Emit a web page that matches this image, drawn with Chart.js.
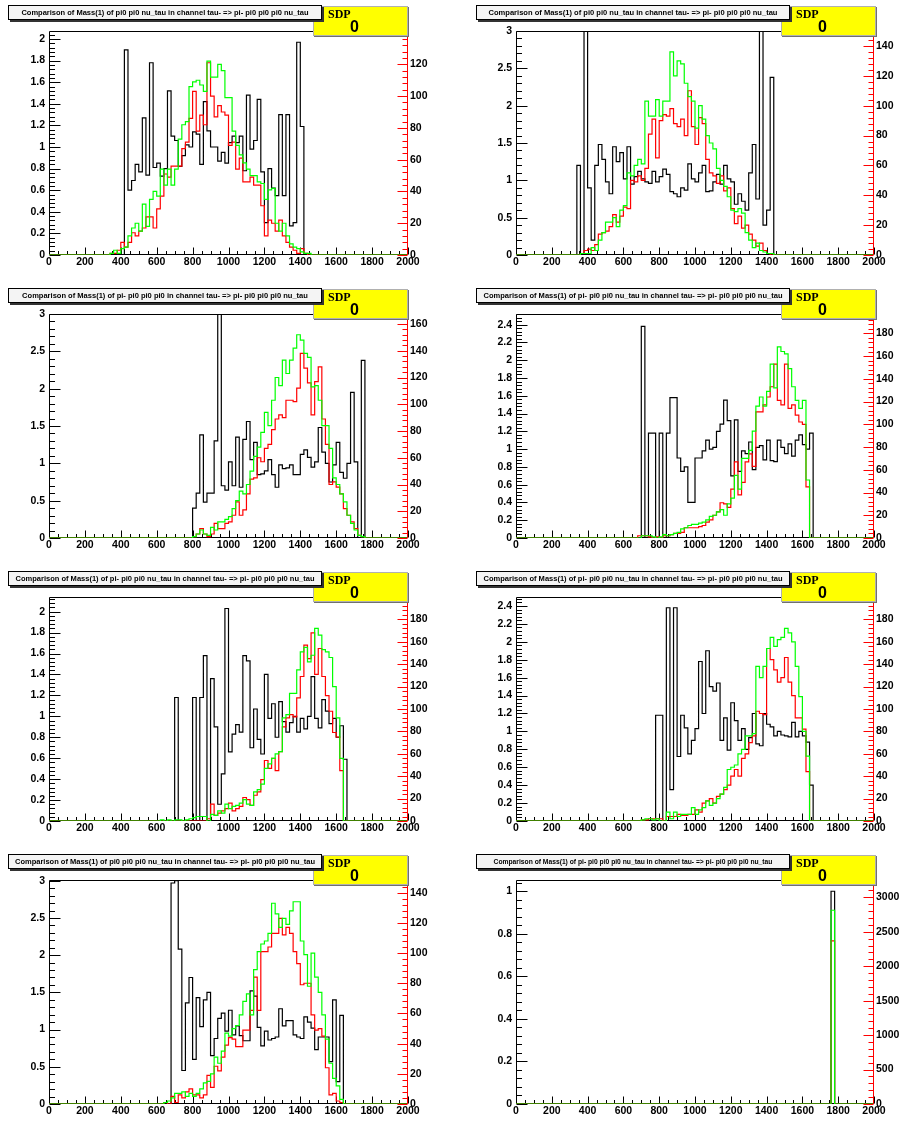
<!DOCTYPE html>
<html>
<head>
<meta charset="utf-8">
<title>Comparison of Mass(1)</title>
<script src="https://cdn.jsdelivr.net/npm/chart.js@4.4.1/dist/chart.umd.min.js"></script>
<style>
  html, body { margin: 0; padding: 0; background: #fff; }
  body { position: relative; width: 902px; height: 1121px; overflow: hidden; }
  .pad { position: absolute; width: 451px; height: 283px; }
  .pad canvas { position: absolute; left: 0; top: 0; }
  .ttl { position: absolute; top: 5px; width: 312px; height: 13px; background: #f4f4f4; border: 1px solid #000;
         box-shadow: 2px 2px 0 #333; font-family: "Liberation Sans", Arial, sans-serif; font-weight: bold;
         line-height: 13px; text-align: center; white-space: nowrap; color: #000; }
  .sdp { position: absolute; top: 6px; width: 93px; height: 28px; background: #ffff00; border: 1px solid #b0b0b0;
         box-shadow: 1px 1px 0 #707070; }
  .sdp .k { position: absolute; left: 14px; top: 1px; font: bold 12px/12px "Liberation Serif", serif; }
  .sdp .v { position: absolute; left: 36px; top: 12px; font: bold 16px/16px "Liberation Sans", sans-serif; }
</style>
</head>
<body>
<script>
// 100 bins of 20 MeV from 0 to 2000; each series starts at its panel's first bin
const binW = 20;
const xMax = 2000;

// panel 1: pi0 pi0 nu_tau
const start1 = 340;
const ratio1 = [0,0,0,0, 1.90,0.60,0.69,0.84,0.77,1.27,0.74,1.78,0.81,0.85, 0.73,0.80,1.52,1.10,1.06,0.82,0.92,1.02,1.00,1.14,
  1.12,0.84,1.42,1.15,1.00,1.00,0.87,0.95,0.85,1.04, 1.10,1.04,1.10,0.78,1.48,0.98,1.06,1.44,0.77,0.30,
  0.80,0.62,0.55,1.30,0.55,1.30,0.27,0.30,1.97,1.19];
const red1 = [1,1,3,8,5,8,14,12,15,17, 24,24,17,29,37,51,49,56,56,56, 67,71,86,103,78,88,82,121,100,87,
  94,90,88,69,71,54,61,46,46,49, 44,44,31,12,22,20,15,22,12,8, 5,3,1,4,1];
const green1 = [1,3,1,4,5,12,17,20,15,32, 18,35,40,37,54,44,54,44,54,73, 82,84,106,109,110,107,103,122,112,112,
  120,116,99,99,78,69,63,58,54,50, 50,46,45,35,41,42,20,15,20,12, 7,5,4,2,1,1];

// panel 2: pi0 pi0 nu_tau
const start2 = 340;
const ratio2 = [1.2,0,3.5,0.9,0.2,1.2,1.48,1.28,0.98,0.82, 1.45,1.25,1.37,1.02,1.45,0.95,1.05,1.12,1.02,0.98,
  0.96,1.12,0.98,1.05,1.15,1.08,0.85,0.82,0.78,0.9, 0.87,1.22,1.02,0.98,1.1,1.2,0.85,0.86,0.98,1.08,
  0.95,1.2,1.02,0.98,0.68,0.82,0.72,0.6,1.1,1.48, 0.75,3.5,0.4,0.6,2.38];
const red2 = [0, 1,3,4,3,7,14,15,16,19,27, 22,26,32,31,50,49,53,50,58,81, 91,65,90,94,93,98,88,86,91,80,
  110,86,74,92,88,64,55,53,48,53, 43,45,31,21,26,18,20,14,10,6, 8,3,1];
const green2 = [0, 1,1,1,5,3,10,15,22,22,25, 19,30,33,55,53,60,64,61,103,93, 93,104,93,103,103,136,120,130,128,115,
  106,103,85,100,91,80,75,71,58,50, 46,39,30,29,31,28,15,10,5,8, 3,2,1,1];

// panel 3: pi- pi0 pi0 pi0
const start3 = 800;
const ratio3 = [0.4,0.6,1.38,0.48,0.6,0.6,1.3,3.5,0.7,0.64, 1.02,0.7,1.35,0.68,1.32,1.56,1.05,1.28,0.85,0.86,
  0.9,1.05,0.85,0.68,0.98,0.93,0.94,0.98,0.85,0.85, 1.12,1.18,1.08,0.95,1.02,1.48,1.15,1.0,0.75,0.98,
  1.28,0.88,0.8,1.0,1.95,1.02,0,2.38];
const red3 = [1,3,7,3,1,3,11,7,7,11, 12,17,27,17,21,33,44,45,60,57, 67,70,81,89,92,90,103,103,102,112,
  138,127,116,92,117,128,89,70,40,42, 38,33,22,17,12,7,2,1];
const green3 = [1,3,6,3,2,8,6,12,12,14, 16,22,28,35,33,40,50,61,68,79, 94,84,103,120,114,133,123,133,142,152,
  148,138,135,113,114,103,84,84,67,45, 40,33,27,17,11,6,2,1];

// panel 4: pi- pi0 pi0 nu_tau
const start4 = 680;
const ratio4 = [0, 2.38,0,1.18,1.18,0,1.18,0,1.18,1.58,1.58, 0.9,0.75,0.8,0.4,0.4,0.9,0.9,0.98,1.1,1.0,
  1.02,1.2,1.28,1.55,1.32,0.7,1.33,0.75,0.98,0.95, 1.08,0.77,1.02,1.04,0.88,1.1,0.87,0.86,1.1,1.02,
  0.95,1.06,0.92,1.1,1.16,1.05,1.0,1.18];
const red4 = [2,2,2,1,0,1,0,2,2,3, 4,4,5,9,9,9,9,10,11,14, 16,20,23,31,30,27,43,67,38,49,
  67,74,63,111,111,117,124,133,153,121, 117,153,114,117,108,102,100,45];
const green4 = [0,2,2,2,1,0,1,3,2,3, 4,5,8,9,11,12,12,13,14,16, 19,20,23,25,20,30,35,55,43,70,
  70,77,94,116,124,116,129,153,132,168, 164,162,149,133,121,114,121,51];

// panel 5: pi- pi0 pi0 nu_tau
const start5 = 620;
const ratio5 = [0,0,0,0, 1.18,0,0,0,0,1.18,0,1.18,1.58,0, 1.36,0.9,0.16,0.45,2.03,0.66,0.83,0.92,0.85,1.58,
  1.53,0.7,1.07,0.78,0.64,1.4,0.98,1.12,0.8,1.14, 0.95,0.85,0.94,1.0,0.85,0.98,0.88,1.0,1.38,0.98,
  0.89,1.16,1.05,0.93,0.98,0.8,0.91,0.59];
const red5 = [0,0,0,0,0,0,0,0,0,0,0,0, 0,2,15,5,7,9,11,16,9,11, 13,21,19,14,23,26,37,54,47,56,
  45,62,84,92,95,93,110,129,157,145, 168,131,154,129,112,98,79,75,45];
const green5 = [1,0,1,0,1,1,0,1,2,3, 4,4,4,0,6,5,9,7,15,11, 13,14,16,19,15,14,26,28,33,47,
  51,56,60,62,92,95,114,114,135,151, 155,142,148,172,166,153,151,146,120,92, 56];

// panel 6: pi- pi0 pi0 nu_tau
const start6 = 680;
const ratio6 = [0,0,0,0,0, 1.18,1.18,0,2.38,0.35,2.38,0.72,1.18,1.04,0.75, 0.9,1.03,1.78,1.2,1.9,1.5,1.45,1.54,0.9,1.15,
  0.79,1.32,1.12,0.9,1.03,0.8,0.93,1.2,0.86,0.84, 1.2,1.08,1.05,0.95,1.0,0.96,0.95,0.94,1.1,0.94,
  1.0,0.95,0.88,0.4];
const red6 = [0,1,1,2,2,2,2,0,4,4, 4,6,5,5,6,6,10,8,16,18, 20,16,22,24,28,32,40,46,40,56,
  60,70,76,98,96,95,154,144,135,124, 128,146,124,112,92,92,82,44];
const green6 = [0,1,2,2,1,2,0,0,8,2, 8,4,6,6,6,12,6,10,12,18, 14,16,20,24,30,46,48,50,60,64,
  76,76,78,138,128,138,154,164,156,162, 164,172,168,160,138,111,80,58];

// panel 7: pi0 pi0 pi0 nu_tau
const start7 = 620;
const ratio7 = [0,0,0, 2.97,3.0,2.08,0.45,1.36,1.7,0.6,1.43,1.04,1.4, 1.5,0.65,0.88,1.15,1.22,0.98,1.26,0.93,1.05,0.92,
  0.85,0.85,1.52,1.45,1.03,0.78,0.98,0.86,0.88,0.9, 1.28,1.05,1.12,1.12,0.93,0.9,0.88,1.17,1.1,1.02,
  0.73,0.9,0.9,0.9,0.57,1.4,0.3,1.19];
const red7 = [0, 1,0,5,1,6,4,8,10,6,6, 4,6,19,11,25,22,31,39,44,43, 38,38,49,49,62,84,62,101,101,104,
  113,113,123,112,117,113,101,93,79,80, 80,59,49,50,45,24,6,7,2,1];
const green7 = [0,1,2,4,7,7,8,5,7,5, 7,10,14,15,20,31,27,35,47,45, 50,52,59,68,73,59,89,101,106,108,
  113,133,126,117,123,119,128,134,134,108, 99,78,100,84,74,59,43,27,17,12, 3];

// panel 8: pi- pi0 pi0 pi0 nu_tau
const start8 = 1760;
const ratio8 = [1.0];
const red8 = [2367];
const green8 = [2812];

const titles = [
  "Comparison of Mass(1) of pi0 pi0 nu_tau in channel tau- => pi- pi0 pi0 pi0 nu_tau",
  "Comparison of Mass(1) of pi0 pi0 nu_tau in channel tau- => pi- pi0 pi0 pi0 nu_tau",
  "Comparison of Mass(1) of pi- pi0 pi0 pi0 in channel tau- => pi- pi0 pi0 pi0 nu_tau",
  "Comparison of Mass(1) of pi- pi0 pi0 nu_tau in channel tau- => pi- pi0 pi0 pi0 nu_tau",
  "Comparison of Mass(1) of pi- pi0 pi0 nu_tau in channel tau- => pi- pi0 pi0 pi0 nu_tau",
  "Comparison of Mass(1) of pi- pi0 pi0 nu_tau in channel tau- => pi- pi0 pi0 pi0 nu_tau",
  "Comparison of Mass(1) of pi0 pi0 pi0 nu_tau in channel tau- => pi- pi0 pi0 pi0 nu_tau",
  "Comparison of Mass(1) of pi- pi0 pi0 pi0 nu_tau in channel tau- => pi- pi0 pi0 pi0 nu_tau"
];
const leftMax = [2.074, 3, 3, 2.52, 2.14, 2.5, 3.01, 1.053];
const leftStep = [0.2, 0.5, 0.5, 0.2, 0.2, 0.2, 0.5, 0.2];
const rightMax = [141, 150, 167.5, 197, 200, 200, 148.4, 3251];
const rightStep = [20, 20, 20, 20, 20, 20, 20, 500];
const rightLabelTop = [120, 140, 160, 180, 180, 180, 140, 3000];
const titleTextW = [287, 289, 286, 299, 299, 299, 300, 279];

const panels = [
  { start: start1, ratio: ratio1, red: red1, green: green1 },
  { start: start2, ratio: ratio2, red: red2, green: green2 },
  { start: start3, ratio: ratio3, red: red3, green: green3 },
  { start: start4, ratio: ratio4, red: red4, green: green4 },
  { start: start5, ratio: ratio5, red: red5, green: green5 },
  { start: start6, ratio: ratio6, red: red6, green: green6 },
  { start: start7, ratio: ratio7, red: red7, green: green7 },
  { start: start8, ratio: ratio8, red: red8, green: green8 }
];

const rowTop = [0, 283, 566, 849];
const tickFont = { family: "Liberation Sans", size: 10.5, weight: "bold" };

// histogram points at bin left edges, stepped drawing
function bins(start, vals) {
  const pts = [];
  for (let e = 0; e < xMax; e += binW) {
    const k = Math.round((e - start) / binW);
    pts.push({ x: e, y: k >= 0 && k < vals.length ? vals[k] : 0 });
  }
  pts.push({ x: xMax, y: 0 });
  return pts;
}

function eachTick(max, step, sub, fn) {
  const n = Math.floor(max / (step / sub) + 1e-6);
  for (let k = 0; k <= n; k++) fn(k * step / sub, k % sub === 0);
}

function fixedTicks(step) {
  return s => {
    const t = [];
    eachTick(s.max, step, 1, v => t.push({ value: v }));
    s.ticks = t;
  };
}

// ROOT-like frame with inward ticks
const rootAxes = {
  id: "rootAxes",
  beforeDatasetsDraw(chart, args, o) {
    const { ctx, chartArea: a } = chart;
    const { x, y } = chart.scales;
    const L = Math.round(a.left) + 0.5, R = Math.round(a.right) - 0.5;
    const T = Math.round(a.top) + 0.5, B = Math.round(a.bottom) - 0.5;
    ctx.save();
    ctx.lineWidth = 1;
    ctx.strokeStyle = "#000";
    ctx.beginPath();
    ctx.rect(L, T, R - L, B - T);
    eachTick(y.max, o.ls, 5, (v, major) => {
      const p = Math.round(y.getPixelForValue(v)) + 0.5;
      ctx.moveTo(L, p); ctx.lineTo(L + (major ? 11 : 5.5), p);
    });
    eachTick(xMax, 200, 4, (v, major) => {
      const p = Math.round(x.getPixelForValue(v)) + 0.5;
      ctx.moveTo(p, B); ctx.lineTo(p, B - (major ? 7 : 3.5));
    });
    ctx.stroke();
    ctx.restore();
  },
  afterDatasetsDraw(chart, args, o) {
    const { ctx, chartArea: a } = chart;
    const r = chart.scales.y1;
    const R = Math.round(a.right) - 0.5;
    ctx.save();
    ctx.lineWidth = 1;
    ctx.strokeStyle = "#ff0000";
    ctx.beginPath();
    ctx.moveTo(R, a.bottom); ctx.lineTo(R, a.top);
    eachTick(r.max, o.rs, 5, (v, major) => {
      const p = Math.round(r.getPixelForValue(v)) + 0.5;
      ctx.moveTo(R, p); ctx.lineTo(R - (major ? 10 : 5), p);
    });
    ctx.stroke();
    ctx.restore();
  }
};

const measure = document.createElement("canvas").getContext("2d");
measure.font = 'bold 10px "Liberation Sans"';

panels.forEach((p, i) => {
  const col = i % 2;
  const plotL = col ? 65 : 49;
  const plotR = col ? 423 : 408;

  const pad = document.createElement("div");
  pad.className = "pad";
  pad.style.left = (col * 451) + "px";
  pad.style.top = rowTop[Math.floor(i / 2)] + "px";
  document.body.appendChild(pad);

  const cv = document.createElement("canvas");
  cv.width = 451;
  cv.height = 283;
  pad.appendChild(cv);

  // stat box first, title box drawn over it
  const sdp = document.createElement("div");
  sdp.className = "sdp";
  sdp.style.left = (col ? 330 : 313) + "px";
  sdp.innerHTML = '<span class="k">SDP</span><span class="v">0</span>';
  pad.appendChild(sdp);

  const ttl = document.createElement("div");
  ttl.className = "ttl";
  ttl.style.left = (col ? 25 : 8) + "px";
  ttl.style.fontSize = (10 * titleTextW[i] / measure.measureText(titles[i]).width).toFixed(2) + "px";
  ttl.textContent = titles[i];
  pad.appendChild(ttl);

  const line = { stepped: true, pointRadius: 0, borderWidth: 1.2, fill: false, tension: 0 };

  new Chart(cv, {
    type: "line",
    data: {
      datasets: [
        Object.assign({ label: "ratio", data: bins(p.start, p.ratio), yAxisID: "y", borderColor: "#000000", order: 3 }, line),
        Object.assign({ label: "red", data: bins(p.start, p.red), yAxisID: "y1", borderColor: "#ff0000", order: 2 }, line),
        Object.assign({ label: "green", data: bins(p.start, p.green), yAxisID: "y1", borderColor: "#00ff00", order: 1 }, line)
      ]
    },
    options: {
      responsive: false,
      animation: false,
      devicePixelRatio: 1,
      layout: { padding: { top: 31, left: 0, right: 0, bottom: 0 } },
      plugins: {
        legend: { display: false },
        tooltip: { enabled: false },
        rootAxes: { ls: leftStep[i], rs: rightStep[i] }
      },
      scales: {
        x: {
          type: "linear", min: 0, max: xMax,
          afterFit: s => { s.height = 28; },
          afterBuildTicks: fixedTicks(200),
          grid: { display: false, drawTicks: false },
          border: { display: false },
          ticks: { padding: 1, autoSkip: false, maxRotation: 0, color: "#000", font: tickFont,
                   callback: v => String(Math.round(v)) }
        },
        y: {
          position: "left", min: 0, max: leftMax[i],
          afterFit: s => { s.width = plotL; },
          afterBuildTicks: fixedTicks(leftStep[i]),
          grid: { display: false, drawTicks: false },
          border: { display: false },
          ticks: {
            padding: 4, autoSkip: false, color: "#000", font: tickFont,
            callback: v => String(+v.toFixed(3))
          }
        },
        y1: {
          position: "right", min: 0, max: rightMax[i],
          afterFit: s => { s.width = 451 - plotR; },
          afterBuildTicks: fixedTicks(rightStep[i]),
          grid: { display: false, drawTicks: false },
          border: { display: false },
          ticks: {
            padding: 2, autoSkip: false, color: "#000", font: tickFont,
            callback: v => (v > rightLabelTop[i] + 1e-6 ? "" : String(Math.round(v)))
          }
        }
      }
    },
    plugins: [rootAxes]
  });
});
</script>
</body>
</html>
